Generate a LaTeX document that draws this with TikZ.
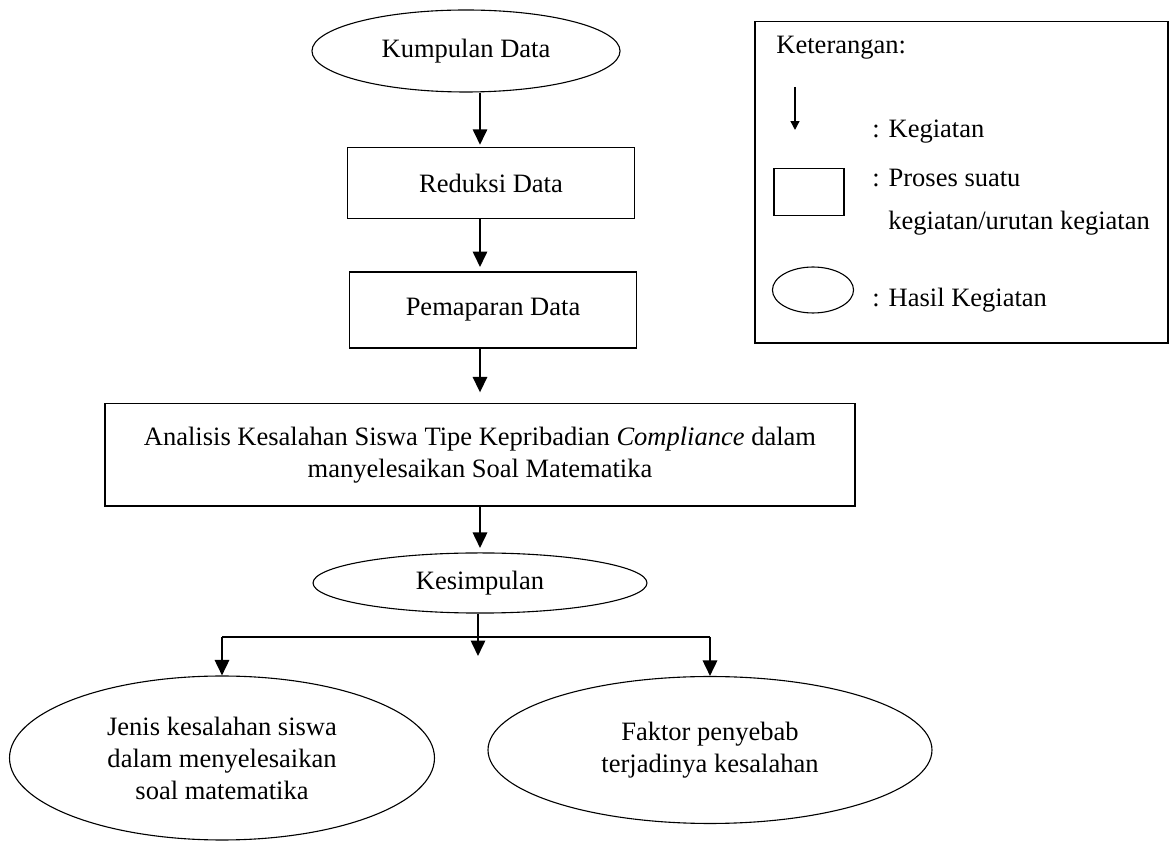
\documentclass[tikz,border=0pt]{standalone}
\usepackage{fontspec}
\setmainfont{Liberation Serif}
\usetikzlibrary{arrows.meta,shapes.geometric}

\begin{document}
\begin{tikzpicture}[
      x=0.4525pt, y=-0.4525pt,
      myellipse/.style={
         ellipse,
         draw=black,
         line width=0.5pt,
         inner sep=0pt,
         align=center,
         font=\fontsize{12}{14.5}\selectfont},
      mybox/.style={
         rectangle,
         draw=black,
         line width=0.5pt,
         inner sep=0pt,
         align=center,
         font=\fontsize{12}{14.5}\selectfont},
      mytext/.style={anchor=west, inner sep=0pt, font=\fontsize{12}{14.5}\selectfont},
      myarrow/.style={-{Triangle[length=7pt,width=6.5pt]}, line width=0.9pt},
      smallarrow/.style={-{Triangle[length=4pt,width=4pt]}, line width=0.6pt}
      ]
\useasboundingbox (0,0) rectangle (1170,844);

% alur analisis
\node[myellipse,minimum width=139.4pt,minimum height=37.1pt] (kumpulan) at (466,51) {Kumpulan Data};
\node[mybox,minimum width=129.9pt,minimum height=32.1pt] (reduksi) at (491,183) {Reduksi Data};
\node[mybox,minimum width=129.9pt,minimum height=34.4pt] (pemaparan) at (493,310) {Pemaparan Data};
\node[mybox,minimum width=339.4pt,minimum height=46.2pt] (analisis) at (480,455)
   {Analisis Kesalahan Siswa Tipe Kepribadian \textit{Compliance} dalam\\manyelesaikan Soal Matematika};
\node[myellipse,minimum width=151.1pt,minimum height=27.2pt] (kesimpulan) at (480,583) {Kesimpulan};
\node[myellipse,minimum width=192.3pt,minimum height=74.2pt] (jenis) at (222,758)
   {Jenis kesalahan siswa\\dalam menyelesaikan\\soal matematika};
\node[myellipse,minimum width=200.9pt,minimum height=66.5pt] (faktor) at (710,750)
   {Faktor penyebab\\terjadinya kesalahan};

\coordinate (axis) at (480,0);
\coordinate (split) at (478,637);
\coordinate (midend) at (478,656);

\foreach \i/\j/\s in {% start node/end node/gap
      kumpulan/reduksi/1pt,
      reduksi/pemaparan/2pt,
      pemaparan/analisis/5pt,
      analisis/kesimpulan/2pt}
       \draw[myarrow,shorten >=\s] (\i.south -| axis) -- (\j.north -| axis);

\draw[myarrow] (kesimpulan.south -| split) -- (midend);
\draw[line width=0.5pt] (jenis.north |- split) -- (faktor.north |- split);
\draw[myarrow] (jenis.north |- split) -- (jenis.north);
\draw[myarrow] (faktor.north |- split) -- (faktor.north);

% keterangan
\node[mybox,minimum width=186.9pt,minimum height=145.3pt] (legend) at (961.5,182.5) {};
\node[mytext] (ket) at (776,48) {Keterangan:};
\coordinate (legA) at (795,87);
\coordinate (legB) at (795,130);
\draw[smallarrow] (legA) -- (legB);
\node[mytext] (kegiatan) at (872,132) {: Kegiatan};
\node[mybox,minimum width=31.7pt,minimum height=21.3pt] (legbox) at (809,192) {};
\node[mytext] (proses) at (872,178) {: Proses suatu};
\node[mytext] (urutan) at (888,223) {kegiatan/urutan kegiatan};
\node[myellipse,minimum width=36.7pt,minimum height=20.8pt] (legell) at (813,290) {};
\node[mytext] (hasil) at (872,300) {: Hasil Kegiatan};

\end{tikzpicture}
\end{document}
